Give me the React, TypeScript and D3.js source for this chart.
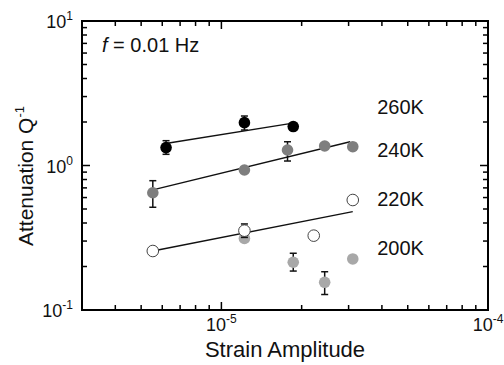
import React, { useEffect, useRef } from 'react';
import * as d3 from 'd3';

// strain amplitude (x) and attenuation Q^-1 (y)
const temps = ['260K', '240K', '220K', '200K'];

const strain260 = [6.2e-6, 1.22e-5, 1.86e-5];
const q260 = [1.33, 1.98, 1.86];
const lo260 = [1.195, 1.76, null];
const hi260 = [1.485, 2.2, null];

const strain240 = [5.53e-6, 1.22e-5, 1.77e-5, 2.44e-5, 3.11e-5];
const q240 = [0.648, 0.931, 1.28, 1.364, 1.349];
const lo240 = [0.514, null, 1.074, null, null];
const hi240 = [0.785, null, 1.46, null, null];

const strain220 = [5.53e-6, 1.22e-5, 2.22e-5, 3.11e-5];
const q220 = [0.256, 0.354, 0.327, 0.577];
const lo220 = [null, 0.318, null, null];
const hi220 = [null, 0.394, null, null];

const strain200 = [1.22e-5, 1.86e-5, 2.44e-5, 3.11e-5];
const q200 = [0.313, 0.214, 0.1555, 0.2255];
const lo200 = [null, 0.186, 0.128, null];
const hi200 = [null, 0.247, 0.184, null];

// fitted lines (start / end)
const fitStrain260 = [6.18e-6, 1.83e-5];
const fitQ260 = [1.42, 1.96];
const fitStrain240 = [5.53e-6, 3.04e-5];
const fitQ240 = [0.677, 1.46];
const fitStrain220 = [5.53e-6, 3.11e-5];
const fitQ220 = [0.256, 0.479];

const labelStrain = 3.84e-5;
const labelQ = [2.54, 1.28, 0.586, 0.267];

const xTickMajor = [1e-5, 1e-4];
const xTickLabels = ['-5', '-4'];
const yTickMajor = [0.1, 1, 10];
const yTickLabels = ['-1', '0', '1'];

const font = '"Liberation Sans", Arial, Helvetica, sans-serif';

function App() {
    const svgRef = useRef(null);
    const width = 504;
    const height = 365;

    useEffect(() => {
        const svg = d3.select(svgRef.current);
        svg.selectAll('*').remove();

        const left = 82, right = 488, top = 21, bottom = 310;
        const x = d3.scaleLog().domain([3e-6, 1e-4]).range([left, right]);
        const y = d3.scaleLog().domain([0.1, 10]).range([bottom, top]);

        const zip = (xs, ys, los, his) => xs.map((v, i) => ({ x: v, y: ys[i], lo: los[i], hi: his[i] }));
        const series = [
            { key: '200K', pts: zip(strain200, q200, lo200, hi200), fill: '#a8a8a8', stroke: 'none' },
            { key: '220K', pts: zip(strain220, q220, lo220, hi220), fill: '#ffffff', stroke: '#444' },
            { key: '240K', pts: zip(strain240, q240, lo240, hi240), fill: '#7e7e7e', stroke: 'none' },
            { key: '260K', pts: zip(strain260, q260, lo260, hi260), fill: '#000000', stroke: 'none' },
        ];
        const fits = [
            [fitStrain260, fitQ260],
            [fitStrain240, fitQ240],
            [fitStrain220, fitQ220],
        ];

        // ticks (inward, all four sides)
        const xMinor = x.ticks().filter(t => !xTickMajor.some(m => Math.abs(m - t) / m < 1e-6));
        const yMinor = y.ticks().filter(t => !yTickMajor.some(m => Math.abs(m - t) / m < 1e-6));
        const ticks = svg.append('g').attr('stroke', '#000').attr('stroke-width', 1.5);
        const xt = [...xMinor.map(v => [v, 5]), ...xTickMajor.map(v => [v, 8])];
        const yt = [...yMinor.map(v => [v, 5]), ...yTickMajor.map(v => [v, 8])];
        xt.forEach(([v, len]) => {
            ticks.append('line').attr('x1', x(v)).attr('x2', x(v)).attr('y1', bottom).attr('y2', bottom - len);
            ticks.append('line').attr('x1', x(v)).attr('x2', x(v)).attr('y1', top).attr('y2', top + len);
        });
        yt.forEach(([v, len]) => {
            ticks.append('line').attr('y1', y(v)).attr('y2', y(v)).attr('x1', left).attr('x2', left + len);
            ticks.append('line').attr('y1', y(v)).attr('y2', y(v)).attr('x1', right).attr('x2', right - len);
        });

        svg.append('rect')
            .attr('x', left).attr('y', top)
            .attr('width', right - left).attr('height', bottom - top)
            .attr('fill', 'none').attr('stroke', '#000').attr('stroke-width', 2);

        // tick labels
        xTickMajor.forEach((v, i) => {
            const t = svg.append('text')
                .attr('x', x(v)).attr('y', 331)
                .attr('text-anchor', 'middle')
                .attr('font-family', font).attr('font-size', 18).attr('fill', '#111');
            t.append('tspan').text('10');
            t.append('tspan').attr('dy', -8).attr('font-size', 12).text(xTickLabels[i]);
        });
        yTickMajor.forEach((v, i) => {
            const t = svg.append('text')
                .attr('x', 73).attr('y', y(v) + 7)
                .attr('text-anchor', 'end')
                .attr('font-family', font).attr('font-size', 18).attr('fill', '#111');
            t.append('tspan').text('10');
            t.append('tspan').attr('dy', -8).attr('font-size', 12).text(yTickLabels[i]);
        });

        // axis titles
        svg.append('text')
            .attr('x', 285).attr('y', 357)
            .attr('text-anchor', 'middle')
            .attr('font-family', font).attr('font-size', 22).attr('fill', '#111')
            .text('Strain Amplitude');
        const yl = svg.append('text')
            .attr('transform', 'translate(33,176) rotate(-90)')
            .attr('text-anchor', 'middle')
            .attr('font-family', font).attr('font-size', 21).attr('fill', '#111');
        yl.append('tspan').text('Attenuation Q');
        yl.append('tspan').attr('dy', -9).attr('font-size', 13).text('-1');

        const ft = svg.append('text')
            .attr('x', 102).attr('y', 52)
            .attr('font-family', font).attr('font-size', 20).attr('fill', '#111');
        ft.append('tspan').attr('font-style', 'italic').text('f');
        ft.append('tspan').text(' = 0.01 Hz');

        // fit lines
        fits.forEach(([xs, ys]) => {
            svg.append('line')
                .attr('x1', x(xs[0])).attr('y1', y(ys[0]))
                .attr('x2', x(xs[1])).attr('y2', y(ys[1]))
                .attr('stroke', '#111').attr('stroke-width', 1.3);
        });

        // error bars + points
        series.forEach(s => {
            const g = svg.append('g');
            s.pts.filter(p => p.lo != null).forEach(p => {
                const cx = x(p.x);
                g.append('line').attr('x1', cx).attr('x2', cx).attr('y1', y(p.lo)).attr('y2', y(p.hi))
                    .attr('stroke', '#111').attr('stroke-width', 1.5);
                [p.lo, p.hi].forEach(v => {
                    g.append('line').attr('x1', cx - 3.5).attr('x2', cx + 3.5).attr('y1', y(v)).attr('y2', y(v))
                        .attr('stroke', '#111').attr('stroke-width', 1.5);
                });
            });
            g.selectAll('circle')
                .data(s.pts)
                .join('circle')
                .attr('cx', d => x(d.x))
                .attr('cy', d => y(d.y))
                .attr('r', 5.8)
                .attr('fill', s.fill)
                .attr('stroke', s.stroke)
                .attr('stroke-width', 1);
        });

        // temperature labels
        temps.forEach((t, i) => {
            svg.append('text')
                .attr('x', x(labelStrain)).attr('y', y(labelQ[i]) + 7)
                .attr('font-family', font).attr('font-size', 20).attr('fill', '#111')
                .text(t);
        });
    }, []);

    return (
        <svg ref={svgRef} width={width} height={height}
            style={{ position: 'absolute', left: 0, top: 0, background: '#fff' }} />
    );
}

export default App;
